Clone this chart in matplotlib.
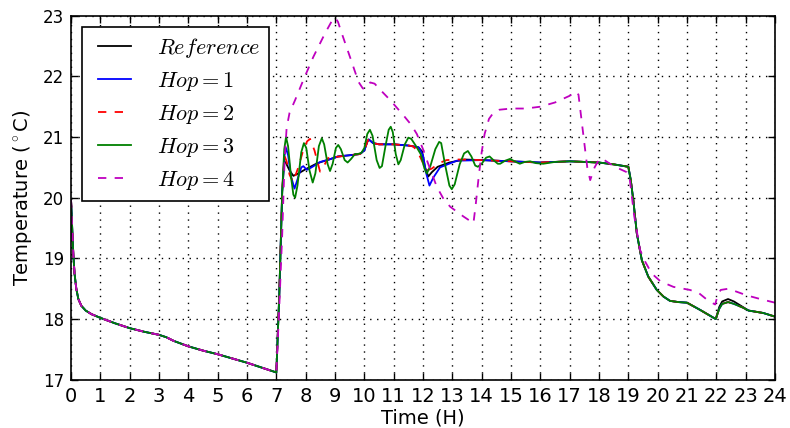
import numpy as np
import matplotlib
matplotlib.use("Agg")
import matplotlib.pyplot as plt
from matplotlib.lines import Line2D
from matplotlib.legend_handler import HandlerLine2D

plt.rcParams["mathtext.fontset"] = "cm"
plt.rcParams["lines.scale_dashes"] = False
plt.rcParams["font.family"] = ["DejaVu Sans"]

# Overnight decay, shared by every run (hours, deg C)
hours_night = [0.0, 0.04, 0.08, 0.12, 0.18, 0.25, 0.35, 0.5, 0.7, 1.0, 1.5, 2.0,
               2.5, 3.0, 3.25, 3.5, 4.0, 4.5, 5.0, 5.5, 6.0, 6.5, 7.0]
temp_night = [19.97, 19.5, 19.05, 18.75, 18.5, 18.33, 18.22, 18.14, 18.08, 18.02,
              17.93, 17.85, 17.79, 17.74, 17.70, 17.64, 17.55, 17.48, 17.42, 17.35,
              17.28, 17.20, 17.12]

# Evening cool-down common to the Reference / Hop 1-3 runs
hours_evening = [18.0, 18.5, 19.0, 19.08, 19.17, 19.29, 19.46, 19.68, 19.97, 20.2,
                 20.42, 20.7, 21.0, 21.45, 21.98, 22.1, 22.2, 22.4, 22.6, 22.9,
                 23.1, 23.6, 24.0]
temp_evening_ref = [20.58, 20.55, 20.51, 20.3, 19.96, 19.41, 18.97, 18.70, 18.48,
                    18.37, 18.30, 18.28, 18.27, 18.15, 18.0, 18.2, 18.29, 18.33,
                    18.29, 18.2, 18.14, 18.1, 18.04]
temp_evening_hop = [20.58, 20.55, 20.51, 20.3, 19.96, 19.41, 18.97, 18.70, 18.48,
                    18.37, 18.30, 18.28, 18.27, 18.15, 18.0, 18.17, 18.25, 18.28,
                    18.25, 18.19, 18.14, 18.1, 18.04]

# Daytime (occupied) part of each run
hours_ref = [7.1, 7.2, 7.27, 7.33, 7.45, 7.58, 7.75, 8.0, 8.4, 8.8, 9.1, 9.5, 9.85,
             10.0, 10.1, 10.15, 10.3, 10.5, 11.0, 11.5, 11.85, 11.97, 12.07, 12.18,
             12.3, 12.5, 12.9, 13.4, 14.0, 15.0, 16.0, 17.0]
temp_ref = [18.4, 20.1, 20.6, 20.57, 20.45, 20.36, 20.40, 20.47, 20.57, 20.63,
            20.68, 20.70, 20.72, 20.78, 20.92, 20.96, 20.9, 20.88, 20.88, 20.86,
            20.83, 20.76, 20.5, 20.35, 20.42, 20.51, 20.58, 20.63, 20.62, 20.60,
            20.58, 20.60]

hours_hop1 = [7.1, 7.2, 7.28, 7.33, 7.4, 7.5, 7.62, 7.72, 7.85, 7.92, 8.04, 8.2,
              8.5, 8.8, 9.1, 9.5, 9.85, 10.0, 10.1, 10.15, 10.3, 10.5, 11.0, 11.5,
              11.85, 12.0, 12.1, 12.22, 12.35, 12.58, 13.15, 14.0, 15.0, 16.0, 17.0]
temp_hop1 = [18.4, 20.1, 20.7, 20.82, 20.7, 20.35, 20.15, 20.3, 20.5, 20.52, 20.46,
             20.5, 20.59, 20.63, 20.68, 20.70, 20.72, 20.78, 20.92, 20.96, 20.9,
             20.88, 20.88, 20.86, 20.83, 20.7, 20.42, 20.2, 20.33, 20.5, 20.61,
             20.62, 20.60, 20.58, 20.60]

hours_hop2 = [7.1, 7.2, 7.27, 7.35, 7.45, 7.57, 7.75, 7.92, 8.05, 8.15, 8.3, 8.49,
              8.65, 8.81, 9.0, 9.5, 9.85, 10.0, 10.1, 10.15, 10.3, 10.5, 11.0, 11.5,
              11.65, 11.8, 12.0, 12.13, 12.3, 12.55, 12.8, 13.2, 14.0, 15.0, 16.0,
              17.0]
temp_hop2 = [18.4, 20.1, 20.7, 20.6, 20.38, 20.26, 20.5, 20.79, 20.93, 20.97, 20.78,
             20.43, 20.55, 20.69, 20.67, 20.70, 20.72, 20.78, 20.92, 20.97, 20.9,
             20.88, 20.88, 20.86, 20.85, 20.78, 20.57, 20.45, 20.48, 20.57, 20.62,
             20.63, 20.62, 20.60, 20.58, 20.60]

hours_hop3 = [7.1, 7.2, 7.27, 7.33, 7.40, 7.5, 7.58, 7.64, 7.72, 7.85, 7.94, 8.02,
              8.13, 8.24, 8.33, 8.45, 8.55, 8.63, 8.75, 8.83, 8.92, 9.03, 9.11, 9.2,
              9.33, 9.43, 9.55, 9.68, 9.78, 9.9, 10.0, 10.1, 10.19, 10.28, 10.42,
              10.52, 10.6, 10.72, 10.83, 10.9, 10.97, 11.07, 11.16, 11.24, 11.38,
              11.5, 11.6, 11.75, 11.92, 12.05, 12.13, 12.25, 12.42, 12.55, 12.62,
              12.75, 12.9, 12.98, 13.08, 13.25, 13.4, 13.53, 13.65, 13.78, 13.87,
              14.0, 14.15, 14.27, 14.4, 14.55, 14.63, 14.8, 14.97, 15.12, 15.3,
              15.47, 15.65, 15.85, 16.1, 16.5, 17.0]
temp_hop3 = [18.4, 20.1, 20.8, 21.0, 20.85, 20.35, 20.05, 20.0, 20.2, 20.75, 20.9,
             20.82, 20.45, 20.25, 20.4, 20.85, 20.98, 20.88, 20.55, 20.44, 20.56,
             20.82, 20.87, 20.8, 20.62, 20.58, 20.64, 20.72, 20.72, 20.74, 20.82,
             21.05, 21.12, 21.02, 20.62, 20.49, 20.52, 20.85, 21.12, 21.17, 21.08,
             20.72, 20.55, 20.62, 20.88, 20.99, 20.97, 20.86, 20.72, 20.48, 20.40,
             20.52, 20.8, 20.92, 20.9, 20.55, 20.2, 20.14, 20.22, 20.55, 20.73,
             20.77, 20.68, 20.53, 20.51, 20.56, 20.66, 20.68, 20.62, 20.56, 20.56,
             20.61, 20.64, 20.6, 20.56, 20.59, 20.6, 20.57, 20.56, 20.59, 20.6]

hours_hop4 = [7.1, 7.2, 7.28, 7.35, 7.45, 7.64, 7.92, 8.26, 8.66, 8.9, 9.0, 9.1,
              9.23, 9.51, 9.8, 9.95, 10.05, 10.2, 10.35, 10.5, 10.88, 11.33, 11.6,
              11.79, 12.0, 12.13, 12.47, 12.7, 12.93, 13.38, 13.72, 13.8, 13.9, 14.0,
              14.1, 14.25, 14.4, 14.6, 15.0, 15.5, 16.0, 16.5, 17.0, 17.18, 17.3,
              17.4, 17.5, 17.6, 17.7, 17.85, 18.0, 18.09, 18.5, 18.95, 19.05, 19.2,
              19.4, 19.57, 19.8, 20.1, 20.54, 21.1, 21.4, 21.73, 21.96, 22.05, 22.15,
              22.41, 23.04, 23.5, 23.83, 24.0]
temp_hop4 = [18.2, 19.4, 20.6, 21.15, 21.4, 21.61, 21.94, 22.32, 22.71, 22.92,
             22.97, 22.9, 22.71, 22.32, 21.91, 21.8, 21.8, 21.9, 21.88, 21.8, 21.61,
             21.36, 21.2, 21.05, 20.8, 20.62, 20.18, 19.98, 19.85, 19.69, 19.58,
             19.9, 20.35, 20.75, 21.05, 21.3, 21.4, 21.45, 21.47, 21.47, 21.5,
             21.57, 21.68, 21.75, 21.7, 21.3, 20.9, 20.5, 20.29, 20.5, 20.63, 20.65,
             20.52, 20.42, 20.3, 19.7, 19.14, 18.95, 18.75, 18.62, 18.53, 18.48,
             18.43, 18.3, 18.24, 18.4, 18.48, 18.5, 18.39, 18.33, 18.29, 18.27]

labels = [r"$Reference$", r"$Hop=1$", r"$Hop=2$", r"$Hop=3$", r"$Hop=4$"]
x_ticks = list(range(0, 25))
y_ticks = [17, 18, 19, 20, 21, 22, 23]


def full_day(h_day, t_day, h_eve=None, t_eve=None):
    h = list(hours_night) + list(h_day)
    t = list(temp_night) + list(t_day)
    if h_eve is not None:
        h += list(h_eve)
        t += list(t_eve)
    return np.array(h), np.array(t)


series = [
    (full_day(hours_ref, temp_ref, hours_evening, temp_evening_ref), "k", "-"),
    (full_day(hours_hop1, temp_hop1, hours_evening, temp_evening_hop), "#0000ff", "-"),
    (full_day(hours_hop2, temp_hop2, hours_evening, temp_evening_hop), "#ff0000", "--"),
    (full_day(hours_hop3, temp_hop3, hours_evening, temp_evening_hop), "#008000", "-"),
    (full_day(hours_hop4, temp_hop4), "#bf00bf", "--"),
]

fig = plt.figure(figsize=(7.9, 4.28), dpi=100)
ax = fig.add_axes([0.0899, 0.1128, 0.8911, 0.8505])

for ((h, t), color, ls), lab in zip(series, labels):
    kw = dict(color=color, linewidth=1.3, label=lab)
    if ls == "--":
        kw["dashes"] = (6, 6)
    ax.plot(h, t, **kw)

ax.set_xlim(0, 24)
ax.set_ylim(17, 23)
ax.set_xticks(x_ticks)
ax.set_yticks(y_ticks)
ax.set_xticklabels([str(v) for v in x_ticks], fontsize=14)
ax.set_yticklabels([str(v) for v in y_ticks], fontsize=12)
ax.tick_params(direction="in", top=True, right=True, length=5, width=1, pad=5)
ax.grid(True, color="k", linestyle=(0, (1, 4)), linewidth=1.0)
for s in ax.spines.values():
    s.set_linewidth(1.2)

ax.set_xlabel("Time (H)", fontsize=14, labelpad=2)
ax.set_ylabel(r"Temperature ($^\circ$C)", fontsize=14, labelpad=6)

leg = ax.legend(loc="upper left", fontsize=16, fancybox=False, framealpha=1,
                edgecolor="k", handlelength=1.82, handletextpad=1.15,
                borderaxespad=0.5, labelspacing=0.45, borderpad=0.4,
                handler_map={Line2D: HandlerLine2D(xpad=0.32)})
leg.get_frame().set_linewidth(1.2)

fig.savefig("out.png", dpi=100, facecolor="white")
